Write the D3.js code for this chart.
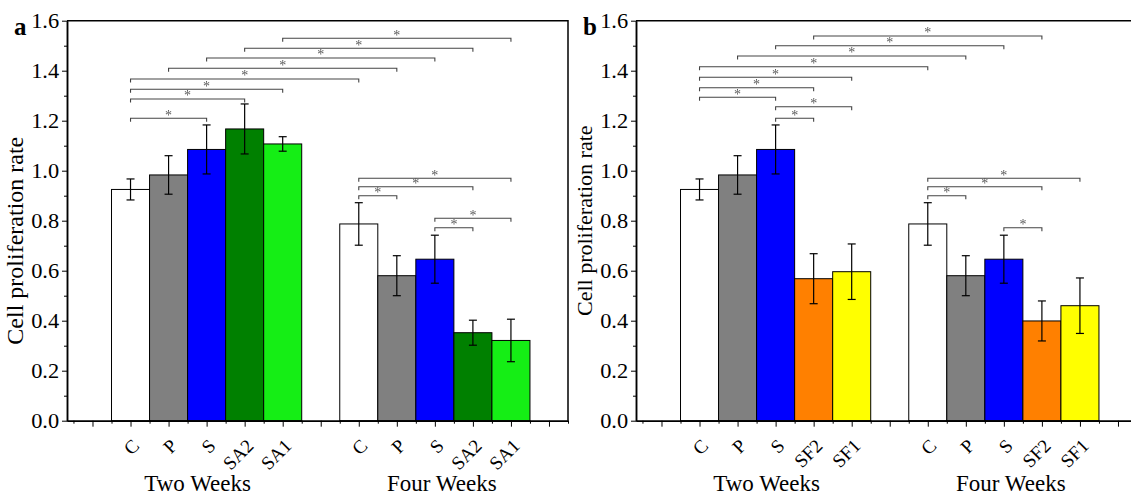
<!DOCTYPE html>
<html>
<head>
<meta charset="utf-8">
<script src="https://d3js.org/d3.v7.min.js"></script>
<style>
  body { margin: 0; background: #fff; }
  svg { display: block; font-family: "Liberation Serif", "Times New Roman", serif; }
  text { font-family: "Liberation Serif", "Times New Roman", serif; }
</style>
</head>
<body>
<svg id="chart" width="1131" height="495"></svg>
<script>
// ---- panel a ----
var groupsA = ["C", "P", "S", "SA2", "SA1"];
var colorsA = ["#ffffff", "#808080", "#0000ff", "#008000", "#15ee15"];
var twoWeeksA = [0.925, 0.983, 1.085, 1.167, 1.107];
var twoWeeksErrA = [0.042, 0.077, 0.098, 0.100, 0.029];
var fourWeeksA = [0.787, 0.580, 0.646, 0.352, 0.321];
var fourWeeksErrA = [0.085, 0.080, 0.096, 0.050, 0.085];

// ---- panel b ----
var groupsB = ["C", "P", "S", "SF2", "SF1"];
var colorsB = ["#ffffff", "#808080", "#0000ff", "#ff8000", "#ffff00"];
var twoWeeksB = [0.925, 0.983, 1.085, 0.568, 0.596];
var twoWeeksErrB = [0.042, 0.077, 0.098, 0.100, 0.111];
var fourWeeksB = [0.787, 0.580, 0.646, 0.399, 0.460];
var fourWeeksErrB = [0.085, 0.080, 0.096, 0.080, 0.111];

var periods = ["Two Weeks", "Four Weeks"];
var yTicks = [0, 0.2, 0.4, 0.6, 0.8, 1.0, 1.2, 1.4, 1.6];
var yTitle = "Cell proliferation rate";

// significance brackets: [bar from, bar to, level]; bars 0-4 = two weeks, 5-9 = four weeks
var sigA = [[0, 2, 1.21], [0, 3, 1.287], [0, 4, 1.326], [0, 5, 1.367], [1, 6, 1.41],
            [2, 7, 1.451], [3, 8, 1.49], [4, 9, 1.53],
            [5, 9, 0.97], [5, 8, 0.936], [5, 6, 0.90], [7, 9, 0.81], [7, 8, 0.772]];
var sigB = [[2, 3, 1.21], [2, 4, 1.256], [0, 2, 1.294], [0, 3, 1.332], [0, 4, 1.374],
            [0, 5, 1.416], [1, 6, 1.459], [2, 7, 1.5], [3, 8, 1.539],
            [5, 9, 0.97], [5, 8, 0.936], [5, 6, 0.90], [7, 8, 0.772]];

var svg = d3.select("#chart");
var y = d3.scaleLinear().domain([0, 1.6]).range([420.7, 20.7]);

function slot(i) { return i < 5 ? i + 2 : i + 3; }

function panel(x0, letter, groups, colors, two, twoErr, four, fourErr, sig, titleSize, titleMid) {
  var x = d3.scaleLinear().domain([0.33, 13.5]).range([x0, x0 + 501]);
  var bw = x(1) - x(0);
  var g = svg.append("g");

  var data = two.map(function(v, i) {
    return {name: groups[i], v: v, e: twoErr[i], color: colors[i], pos: slot(i)};
  }).concat(four.map(function(v, i) {
    return {name: groups[i], v: v, e: fourErr[i], color: colors[i], pos: slot(i + 5)};
  }));

  // bars
  g.selectAll("rect.bar").data(data).join("rect")
    .attr("class", "bar")
    .attr("x", d => x(d.pos - 0.5))
    .attr("width", bw)
    .attr("y", d => y(d.v))
    .attr("height", d => y(0) - y(d.v))
    .attr("fill", d => d.color)
    .attr("stroke", "#000")
    .attr("stroke-width", 1);

  // error bars
  var eb = g.selectAll("g.err").data(data).join("g").attr("class", "err")
    .attr("stroke", "#000").attr("stroke-width", 1.2);
  eb.append("line")
    .attr("x1", d => x(d.pos)).attr("x2", d => x(d.pos))
    .attr("y1", d => y(d.v + d.e)).attr("y2", d => y(d.v - d.e));
  eb.append("line")
    .attr("x1", d => x(d.pos) - 4).attr("x2", d => x(d.pos) + 4)
    .attr("y1", d => y(d.v + d.e)).attr("y2", d => y(d.v + d.e));
  eb.append("line")
    .attr("x1", d => x(d.pos) - 4).attr("x2", d => x(d.pos) + 4)
    .attr("y1", d => y(d.v - d.e)).attr("y2", d => y(d.v - d.e));

  // significance brackets
  var sigG = g.append("g").style("filter", "grayscale(100%)");
  var sg = sigG.selectAll("g.sig").data(sig).join("g").attr("class", "sig");
  sg.append("path")
    .attr("d", function(s) {
      var a = x(slot(s[0])), b = x(slot(s[1])), h = y(s[2]);
      return "M" + a + "," + (h + 3.5) + "V" + h + "H" + b + "V" + (h + 3.5);
    })
    .attr("fill", "none").attr("stroke", "#444").attr("stroke-width", 1.1);
  sg.append("text")
    .attr("x", s => (x(slot(s[0])) + x(slot(s[1]))) / 2)
    .attr("y", s => y(s[2]) + 1.5)
    .attr("text-anchor", "middle")
    .attr("font-size", 14)
    .attr("fill", "#5a5a5a")
    .text("*");

  // y axis
  var yAxis = g.append("g").attr("transform", "translate(" + x0 + ",0)")
    .call(d3.axisLeft(y).tickValues(yTicks).tickSize(5).tickSizeOuter(0).tickPadding(2)
      .tickFormat(d3.format(".1f")));
  yAxis.append("g").call(d3.axisLeft(y).tickValues(d3.range(0.1, 1.6, 0.2)).tickSize(3)
    .tickSizeOuter(0).tickFormat(""));
  yAxis.selectAll("text").attr("font-size", 20).attr("font-family", null).attr("fill", "#000")
    .attr("transform", "scale(1.12,1)");

  // x axis
  var xAxis = g.append("g").attr("transform", "translate(0," + y(0) + ")")
    .call(d3.axisBottom(x).tickValues(d3.range(1, 14)).tickSize(6).tickSizeOuter(0).tickFormat(""));
  xAxis.append("g").call(d3.axisBottom(x).tickValues(d3.range(0.5, 13.6, 1)).tickSize(3)
    .tickSizeOuter(0).tickFormat(""));
  svg.selectAll(".domain").attr("stroke-width", 1.5);

  // category labels
  g.selectAll("text.cat").data(data).join("text")
    .attr("class", "cat")
    .attr("transform", d => "translate(" + (x(d.pos) + 10) + ",447) rotate(-45)")
    .attr("text-anchor", "end")
    .attr("font-size", 19)
    .text(d => d.name);

  // period labels
  g.selectAll("text.period").data(periods).join("text")
    .attr("class", "period")
    .attr("x", (d, i) => i === 0 ? x(4) - 9 : x(10) + 7)
    .attr("y", 491)
    .attr("text-anchor", "middle")
    .attr("font-size", 23)
    .text(d => d);

  // frame top + right
  g.append("path")
    .attr("d", "M" + x0 + "," + y(1.6) + "H" + x(13.5) + "V" + y(0))
    .attr("fill", "none").attr("stroke", "#000").attr("stroke-width", 1.5);

  // axis title
  g.append("text")
    .attr("transform", "translate(" + (x0 - 44) + "," + y(titleMid) + ") rotate(-90)")
    .attr("text-anchor", "middle")
    .attr("font-size", titleSize)
    .text(yTitle);

  // panel letter
  g.append("text")
    .attr("x", x0 - 53).attr("y", 35)
    .attr("font-size", 25).attr("font-weight", "bold")
    .text(letter);
}

panel(67, "a", groupsA, colorsA, twoWeeksA, twoWeeksErrA, fourWeeksA, fourWeeksErrA, sigA, 24, 0.72);
panel(636, "b", groupsB, colorsB, twoWeeksB, twoWeeksErrB, fourWeeksB, fourWeeksErrB, sigB, 22, 0.8);
</script>
</body>
</html>
